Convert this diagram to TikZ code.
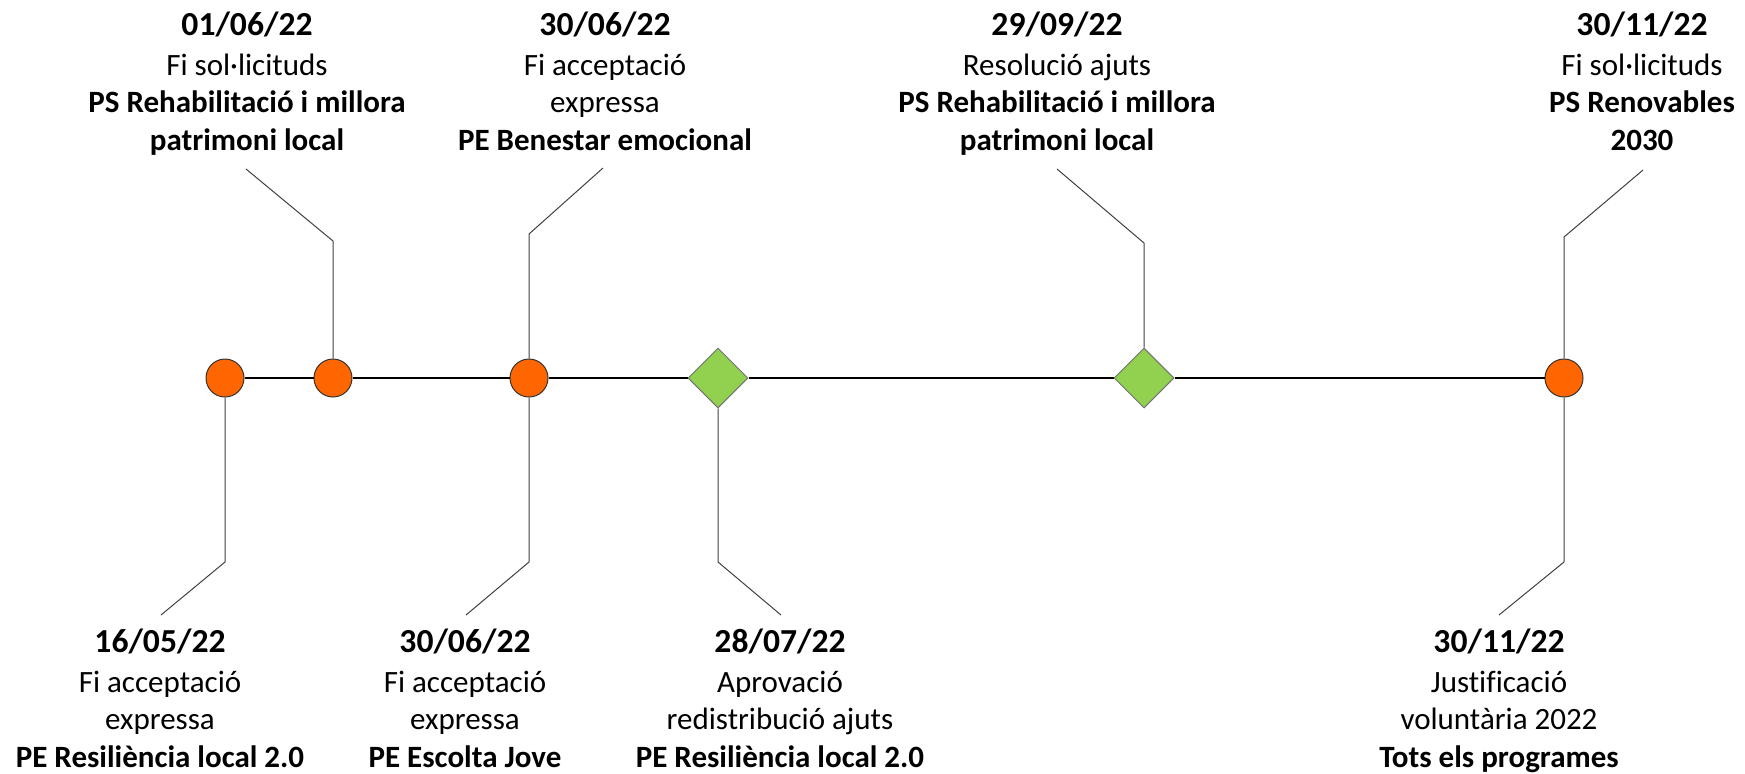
\documentclass[tikz,border=0pt]{standalone}
\usepackage{fontspec}
\setmainfont{Carlito}[Ligatures=NoCommon]
\usetikzlibrary{shapes.geometric}
\definecolor{taronja}{HTML}{FF6600}
\definecolor{verd}{HTML}{92D050}
\tikzset{
    fita/.style={
           circle,
           draw=black!80, fill=taronja,
           line width=0.5pt,
           minimum size=19pt,
           inner sep=0pt},
    rombe/.style={
           diamond,
           draw=black!55, fill=verd,
           line width=0.5pt,
           minimum width=30pt, minimum height=30pt,
           inner sep=0pt},
    eix/.style={
           line width=1pt},
    pal/.style={
           black!75,
           line width=0.5pt},
    etiq/.style={
           anchor=base,
           inner sep=0pt}
}
\newcommand{\etiqueta}[4]{\fontsize{15.5pt}{18.75pt}\selectfont
  \begin{tabular}[t]{@{}c@{}}{\fontsize{16.8pt}{18.75pt}\selectfont\bfseries #1}\\[1.25pt] #2\\ #3\\ #4\end{tabular}}

\begin{document}
\begin{tikzpicture}[x=0.5pt,y=-0.5pt]
          \useasboundingbox (0,0) rectangle (1745,773);
          % fites de l'eix
          \node[fita](f1605) at (225,378) {};
          \node[fita](f0106) at (333,378) {};
          \node[fita](f3006) at (529,378) {};
          \node[rombe](f2807) at (718,378) {};
          \node[rombe](f2909) at (1144,378) {};
          \node[fita](f3011) at (1564,378) {};
          \foreach \a/\b in {f1605/f0106, f0106/f3006, f3006/f2807, f2807/f2909, f2909/f3011}
              \draw[eix] (\a) -- (\b);
          % etiquetes de dalt
          \node[etiq](l0106) at (247,35) {\etiqueta{01/06/22}{Fi sol·licituds}{\textbf{PS Rehabilitació i millora}}{\textbf{patrimoni local}}};
          \node[etiq](l3006a) at (605,35) {\etiqueta{30/06/22}{Fi acceptació}{expressa}{\textbf{PE Benestar emocional}}};
          \node[etiq](l2909) at (1057,35) {\etiqueta{29/09/22}{Resolució ajuts}{\textbf{PS Rehabilitació i millora}}{\textbf{patrimoni local}}};
          \node[etiq](l3011a) at (1642,35) {\etiqueta{30/11/22}{Fi sol·licituds}{\textbf{PS Renovables}}{\textbf{2030}}};
          % etiquetes de baix
          \node[etiq](l1605) at (160,652) {\etiqueta{16/05/22}{Fi acceptació}{expressa}{\textbf{PE Resiliència local 2.0}}};
          \node[etiq](l3006b) at (465,652) {\etiqueta{30/06/22}{Fi acceptació}{expressa}{\textbf{PE Escolta Jove}}};
          \node[etiq](l2807) at (780,652) {\etiqueta{28/07/22}{Aprovació}{redistribució ajuts}{\textbf{PE Resiliència local 2.0}}};
          \node[etiq](l3011b) at (1499,652) {\etiqueta{30/11/22}{Justificació}{voluntària 2022}{\textbf{Tots els programes}}};
          % pals
          \coordinate (k0106) at (333,241);  \coordinate (e0106) at (246,169);
          \coordinate (k3006a) at (529,234); \coordinate (e3006a) at (603,168);
          \coordinate (k2909) at (1144,243); \coordinate (e2909) at (1057,169);
          \coordinate (k3011a) at (1564,237); \coordinate (e3011a) at (1643,170);
          \coordinate (k1605) at (225,562);  \coordinate (e1605) at (161,615);
          \coordinate (k3006b) at (529,562); \coordinate (e3006b) at (466,615);
          \coordinate (k2807) at (718,562);  \coordinate (e2807) at (781,615);
          \coordinate (k3011b) at (1564,562); \coordinate (e3011b) at (1499,615);
          \foreach \f/\k in {f0106/0106, f3006/3006a, f2909/2909, f3011/3011a, f1605/1605, f3006/3006b, f2807/2807, f3011/3011b}
              \draw[pal] (\f) -- (k\k) -- (e\k);
\end{tikzpicture}
\end{document}
